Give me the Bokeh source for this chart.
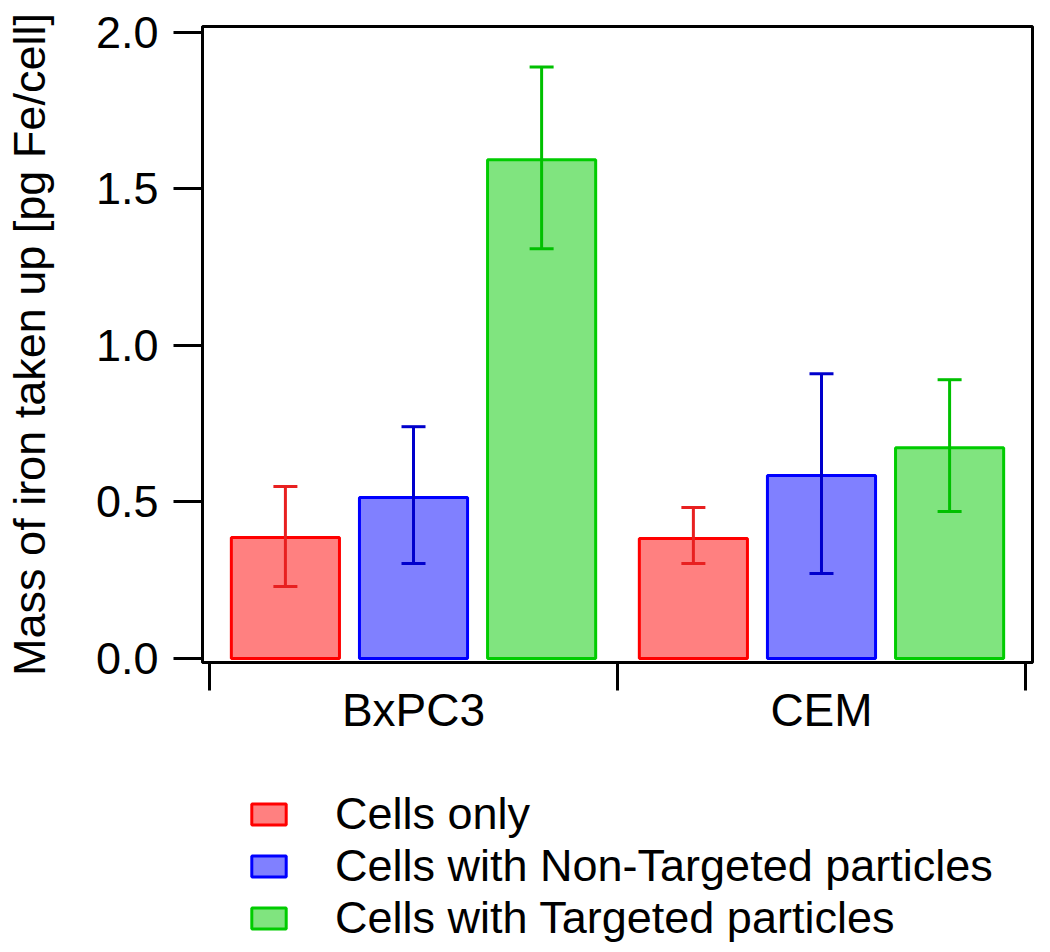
from bokeh.plotting import figure
from bokeh.layouts import column
from bokeh.models import (Range1d, FixedTicker, PrintfTickFormatter, Whisker, TeeHead,
                          ColumnDataSource, Legend, LegendItem, LinearAxis)
from bokeh.embed import file_html
from bokeh.resources import INLINE

# ---- data ----
groups = ["BxPC3", "CEM"]
group_centers = [0.5, 1.5]
series = ["Cells only", "Cells with Non-Targeted particles", "Cells with Targeted particles"]
cells_only = [0.386, 0.383]
cells_only_lo = [0.230, 0.303]
cells_only_hi = [0.549, 0.482]
non_targeted = [0.514, 0.584]
non_targeted_lo = [0.303, 0.271]
non_targeted_hi = [0.740, 0.909]
targeted = [1.592, 0.673]
targeted_lo = [1.308, 0.469]
targeted_hi = [1.888, 0.890]
y_ticks = [0.0, 0.5, 1.0, 1.5, 2.0]
x_ticks = [0, 1, 2]

offsets = [-0.314, 0.0, 0.314]
bar_width = 0.265
fills = ["#ff8080", "#8080ff", "#80e47f"]
lines = ["#ff0000", "#0000ff", "#00cc00"]
err_colors = ["#e82020", "#0000cc", "#00c000"]

FONT = "Liberation Sans"

p = figure(frame_width=830, frame_height=636,
           min_border_left=194, min_border_right=10, min_border_top=26, min_border_bottom=96,
           x_range=Range1d(-0.0172, 2.0172), y_range=Range1d(-0.0128, 2.0176),
           output_backend="svg", toolbar_location=None)
p.xgrid.visible = False
p.ygrid.visible = False
p.outline_line_color = "black"
p.outline_line_width = 3
p.background_fill_color = "white"
p.border_fill_color = "white"

# y axis
ya = p.yaxis[0]
ya.ticker = FixedTicker(ticks=y_ticks)
ya.formatter = PrintfTickFormatter(format="%.1f")
ya.major_tick_out = 29
ya.major_tick_in = 0
ya.minor_tick_out = 0
ya.minor_tick_in = 0
ya.major_tick_line_width = 3
ya.axis_line_width = 3
ya.major_label_standoff = 15
ya.major_label_text_font = FONT
ya.major_label_text_font_size = "45px"
ya.major_label_text_color = "black"
ya.axis_label = "Mass of iron taken up [pg Fe/cell]"
ya.axis_label_text_font = FONT
ya.axis_label_text_font_size = "45px"
ya.axis_label_text_font_style = "normal"
ya.axis_label_text_color = "black"
ya.axis_label_standoff = 38

# x axis: group boundary ticks
xa = p.xaxis[0]
xa.ticker = FixedTicker(ticks=x_ticks)
xa.major_label_overrides = {0: "", 1: "", 2: ""}
xa.major_label_text_font_size = "1px"
xa.major_label_standoff = 0
xa.major_tick_out = 28
xa.major_tick_in = 0
xa.minor_tick_out = 0
xa.minor_tick_in = 0
xa.major_tick_line_width = 3
xa.axis_line_width = 3

# x axis: group names
xa2 = LinearAxis(ticker=FixedTicker(ticks=group_centers),
                 major_label_overrides={c: g for c, g in zip(group_centers, groups)},
                 major_tick_out=0, major_tick_in=0, minor_tick_out=0, minor_tick_in=0,
                 axis_line_color=None, major_tick_line_color=None,
                 major_label_standoff=-7, major_label_text_font=FONT,
                 major_label_text_font_size="46px", major_label_text_color="black")
p.add_layout(xa2, "below")

all_vals = [cells_only, non_targeted, targeted]
all_lo = [cells_only_lo, non_targeted_lo, targeted_lo]
all_hi = [cells_only_hi, non_targeted_hi, targeted_hi]

for i in range(3):
    xs = [c + offsets[i] for c in group_centers]
    src = ColumnDataSource(dict(x=xs, top=all_vals[i], lo=all_lo[i], hi=all_hi[i]))
    p.vbar(x="x", top="top", bottom=0, width=bar_width, source=src,
           fill_color=fills[i], line_color=lines[i], line_width=3)
    w = Whisker(base="x", lower="lo", upper="hi", source=src, dimension="height",
                line_color=err_colors[i], line_width=3, level="overlay",
                upper_head=TeeHead(size=24, line_color=err_colors[i], line_width=3),
                lower_head=TeeHead(size=24, line_color=err_colors[i], line_width=3))
    p.add_layout(w)

# ---- legend panel (separate figure below the chart, same frame geometry) ----
lp = figure(frame_width=830, frame_height=170,
            min_border_left=194, min_border_right=10, min_border_top=16, min_border_bottom=4,
            x_axis_type=None, y_axis_type=None, x_range=Range1d(0, 1), y_range=Range1d(0, 1),
            output_backend="svg", toolbar_location=None)
lp.xgrid.visible = False
lp.ygrid.visible = False
lp.outline_line_color = None
lp.background_fill_color = "white"
lp.border_fill_color = "white"

items = []
for i in range(3):
    # hidden swatch renderers; only their legend glyphs are shown
    r = lp.vbar(x=[5.0], top=[all_vals[i][0]], bottom=0, width=bar_width,
                fill_color=fills[i], line_color=lines[i], line_width=3, visible=False)
    items.append(LegendItem(label=series[i], renderers=[r]))

legend = Legend(items=items, location=(45, 0), orientation="vertical",
                glyph_width=43, glyph_height=26, label_height=50, label_standoff=45,
                spacing=0, padding=0, margin=0, border_line_color=None,
                background_fill_alpha=0,
                label_text_font=FONT, label_text_font_size="45px", label_text_color="black")
lp.add_layout(legend, "center")

layout = column(p, lp, spacing=0)
open("out.html", "w").write(file_html(layout, INLINE))
